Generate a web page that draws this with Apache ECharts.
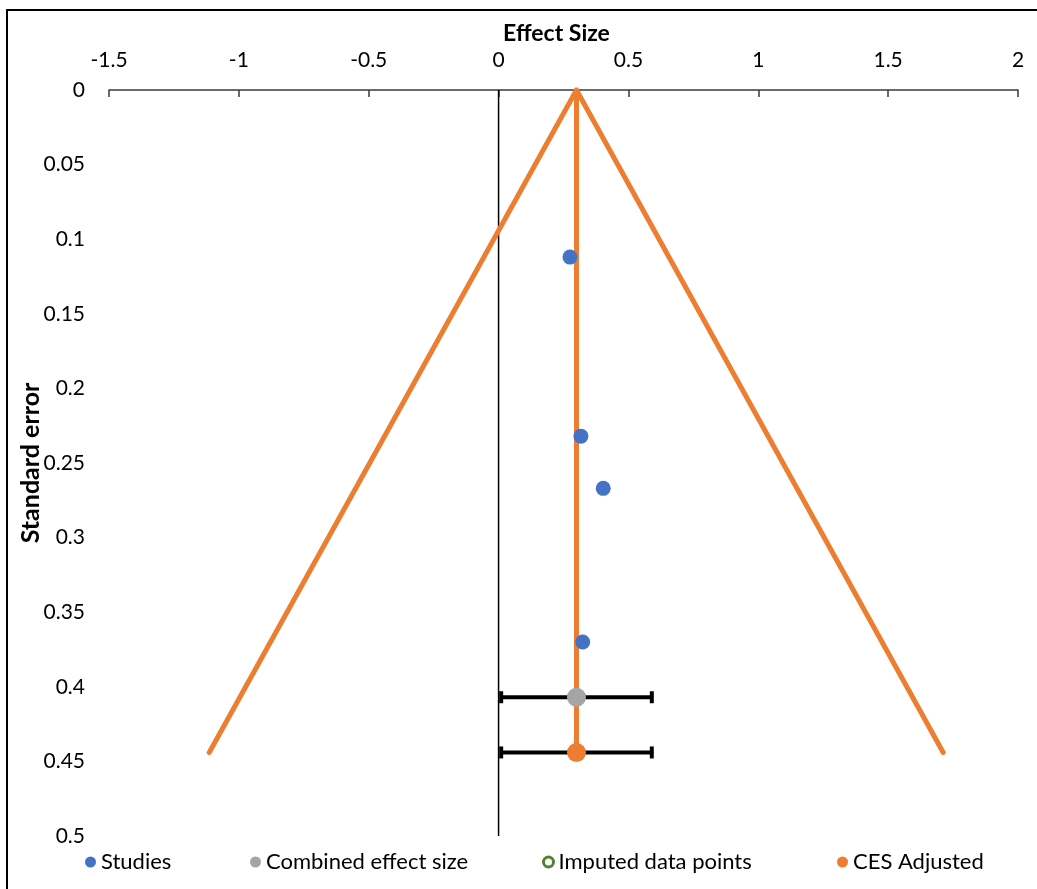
<!DOCTYPE html>
<html>
<head>
<meta charset="utf-8">
<title>Funnel plot</title>
<script src="https://cdn.jsdelivr.net/npm/echarts@6/dist/echarts.min.js"></script>
<style>
  html, body { margin: 0; padding: 0; background: #fff; }
  #chart { width: 1037px; height: 889px; }
</style>
</head>
<body>
<div id="chart"></div>
<script>
// Individual studies: effect size and standard error
const studyEffect = [0.275, 0.317, 0.403, 0.324];
const studySE = [0.112, 0.232, 0.267, 0.370];

// Combined effect size with its confidence interval
const combinedEffect = [0.30];
const combinedSE = [0.407];
const combinedLow = [0.01];
const combinedHigh = [0.59];

// Adjusted combined effect size with its confidence interval
const adjustedEffect = [0.30];
const adjustedSE = [0.444];
const adjustedLow = [0.01];
const adjustedHigh = [0.59];

// Funnel outline (left foot, apex, right foot)
const funnelEffect = [-1.114, 0.30, 1.712];
const funnelSE = [0.444, 0, 0.444];

// Reference line at zero effect
const zeroEffect = [0, 0];
const zeroSE = [0, 0.5];

const legendNames = ['Studies', 'Combined effect size', 'Imputed data points', 'CES Adjusted'];
const legendLeft = [85, 250, 542, 837];

const zip = (xs, ys) => xs.map((x, i) => [x, ys[i]]);

const FONT = 'Lato';
const ORANGE = '#ED7D31';
const GREEN = '#548235';

const chart = echarts.init(document.getElementById('chart'));

function errorBar(params, api) {
  const lo = api.coord([api.value(0), api.value(2)]);
  const hi = api.coord([api.value(1), api.value(2)]);
  const cap = 6;
  const style = { stroke: '#000', lineWidth: 4 };
  return {
    type: 'group',
    children: [
      { type: 'line', shape: { x1: lo[0], y1: lo[1], x2: hi[0], y2: hi[1] }, style },
      { type: 'line', shape: { x1: lo[0], y1: lo[1] - cap, x2: lo[0], y2: lo[1] + cap }, style },
      { type: 'line', shape: { x1: hi[0], y1: hi[1] - cap, x2: hi[0], y2: hi[1] + cap }, style }
    ]
  };
}

const barData = [
  [combinedLow[0], combinedHigh[0], combinedSE[0]],
  [adjustedLow[0], adjustedHigh[0], adjustedSE[0]]
];

// one legend block per entry so each sits at its own spot along the bottom
const legends = legendNames.map((name, i) => {
  const lg = {
    data: [name],
    left: legendLeft[i],
    top: 851,
    icon: 'circle',
    itemWidth: 11,
    itemHeight: 11,
    padding: 0,
    textStyle: { fontFamily: FONT, fontSize: 22, color: '#000' }
  };
  if (name === 'Imputed data points') {
    lg.itemWidth = 10;
    lg.itemHeight = 10;
    lg.itemStyle = { color: '#fff', borderColor: GREEN, borderWidth: 3 };
  }
  return lg;
});

chart.setOption({
  animation: false,
  backgroundColor: '#fff',
  textStyle: { fontFamily: FONT },
  graphic: [{
    type: 'rect',
    shape: { x: 7, y: 10, width: 1100, height: 1000 },
    style: { fill: 'none', stroke: '#000', lineWidth: 2 },
    silent: true,
    z: -10
  }],
  grid: { left: 109, right: 19, top: 90, bottom: 53 },
  legend: legends,
  xAxis: {
    type: 'value',
    position: 'top',
    min: -1.5,
    max: 2,
    interval: 0.5,
    name: 'Effect Size',
    nameLocation: 'middle',
    nameGap: 45,
    nameTextStyle: { fontFamily: FONT, fontSize: 23, fontWeight: 'bold', color: '#000', padding: [0, 14, 0, 0] },
    axisLine: { show: true, onZero: false, lineStyle: { color: '#3a3a3a', width: 1.5 } },
    axisTick: { show: true, inside: true, length: 7, lineStyle: { color: '#3a3a3a', width: 1.5 } },
    axisLabel: { fontFamily: FONT, fontSize: 21, color: '#000', margin: 19 },
    splitLine: { show: false }
  },
  yAxis: {
    type: 'value',
    inverse: true,
    min: 0,
    max: 0.5,
    interval: 0.05,
    name: 'Standard error',
    nameLocation: 'middle',
    nameRotate: 90,
    nameGap: 66,
    nameMoveOverlap: false,
    nameTextStyle: { fontFamily: FONT, fontSize: 25, fontWeight: 'bold', color: '#000' },
    axisLine: { show: false },
    axisTick: { show: false },
    splitLine: { show: false },
    axisLabel: {
      fontFamily: FONT, fontSize: 21, color: '#000', margin: 24,
      formatter: v => String(+v.toFixed(2))
    }
  },
  series: [
    {
      name: 'zero',
      type: 'line',
      data: zip(zeroEffect, zeroSE),
      symbol: 'none',
      lineStyle: { color: '#000', width: 1.5 },
      silent: true,
      z: 1
    },
    {
      name: 'funnel',
      type: 'line',
      data: zip(funnelEffect, funnelSE),
      symbol: 'none',
      lineStyle: { color: ORANGE, width: 5, cap: 'round', join: 'miter' },
      silent: true,
      z: 2
    },
    {
      name: 'adjusted line',
      type: 'line',
      data: [[adjustedEffect[0], 0], [adjustedEffect[0], adjustedSE[0]]],
      symbol: 'none',
      lineStyle: { color: ORANGE, width: 5 },
      silent: true,
      z: 2
    },
    {
      name: 'error bars',
      type: 'custom',
      renderItem: errorBar,
      data: barData,
      encode: { x: [0, 1], y: 2 },
      z: 3
    },
    {
      name: 'Studies',
      type: 'scatter',
      data: zip(studyEffect, studySE),
      symbol: 'circle',
      symbolSize: 15,
      itemStyle: { color: '#4472C4', opacity: 1 },
      z: 5
    },
    {
      name: 'Combined effect size',
      type: 'scatter',
      data: zip(combinedEffect, combinedSE),
      symbol: 'circle',
      symbolSize: 19,
      itemStyle: { color: '#A5A5A5', opacity: 1 },
      z: 5
    },
    {
      name: 'Imputed data points',
      type: 'scatter',
      data: [],
      symbol: 'circle',
      symbolSize: 12,
      itemStyle: { color: '#fff', borderColor: GREEN, borderWidth: 3, opacity: 1 },
      z: 5
    },
    {
      name: 'CES Adjusted',
      type: 'scatter',
      data: zip(adjustedEffect, adjustedSE),
      symbol: 'circle',
      symbolSize: 19,
      itemStyle: { color: ORANGE, opacity: 1 },
      z: 5
    }
  ]
});
</script>
</body>
</html>
